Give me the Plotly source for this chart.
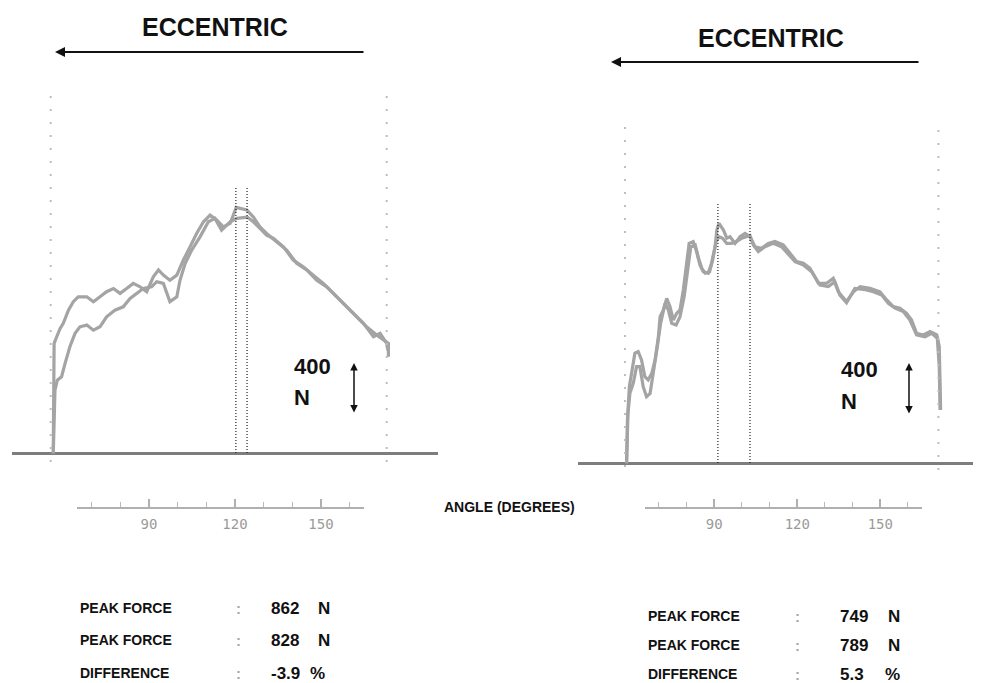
import plotly.graph_objects as go

# The page body has an 8px margin, so the figure is sized and positioned to compensate.
PAGE_MARGIN = 8
W, H = 981 - PAGE_MARGIN, 683 - PAGE_MARGIN

# ---------------- data (angle in degrees, force in N) ----------------
left_c1_deg = [56.6, 56.9, 57.8, 59.0, 60.1, 61.9, 63.6, 65.3, 68.3, 70.6, 72.9, 75.2, 77.6, 79.9, 82.2, 84.5,
               86.9, 89.2, 91.5, 93.3, 95.0, 97.3, 99.7, 102.0, 104.3, 106.6, 109.0, 111.3, 113.6, 115.9, 118.3,
               120.4, 124.1, 126.4, 128.7, 131.0, 134.5, 138.0, 141.5, 145.0, 148.5, 152.0, 155.5, 159.0, 162.4,
               165.9, 169.4, 171.7, 173.5, 173.5]
left_c1_force = [0, 386, 409, 438, 456, 502, 532, 549, 549, 532, 549, 567, 578, 561, 578, 596,
                 584, 567, 619, 643, 625, 607, 625, 678, 724, 771, 812, 835, 818, 794, 806,
                 862, 853, 829, 794, 771, 742, 713, 666, 643, 607, 584, 549, 514, 479,
                 444, 415, 397, 386, 339]

left_c2_deg = [56.6, 57.2, 58.0, 59.5, 60.7, 62.4, 64.2, 65.9, 68.3, 70.6, 72.9, 75.2, 78.1, 81.0, 83.4, 85.7,
               88.0, 90.9, 92.7, 95.0, 97.3, 99.7, 100.8, 102.6, 104.9, 107.8, 110.7, 113.0, 115.3, 118.3, 120.6,
               124.3, 126.4, 128.7, 131.0, 133.4, 136.9, 140.3, 143.8, 147.3, 150.8, 154.3, 157.8, 161.3, 164.8,
               168.3, 170.6, 172.9, 173.3]
left_c2_force = [0, 222, 257, 269, 315, 374, 421, 444, 450, 432, 444, 479, 502, 514, 543, 561,
                 578, 584, 602, 596, 532, 549, 607, 666, 713, 759, 812, 824, 783, 812, 824,
                 828, 812, 789, 765, 754, 724, 678, 654, 625, 596, 561, 526, 491, 456,
                 409, 421, 386, 362]

right_c1_deg = [58.3, 58.6, 59.3, 60.1, 61.3, 62.5, 63.7, 64.9, 66.1, 67.4, 68.6, 69.8, 70.4, 71.6, 72.8, 74.0,
                75.2, 76.4, 77.6, 78.8, 80.0, 80.9, 82.4, 83.6, 84.8, 86.0, 87.8, 89.0, 90.3, 90.9, 91.7,
                93.3, 94.5, 95.7, 97.5, 99.3, 101.1, 102.9, 104.7, 107.1, 109.5, 111.9, 114.9, 117.4, 119.8,
                122.2, 124.6, 127.6, 130.6, 133.0, 134.8, 137.8, 140.3, 142.7, 146.3, 149.9, 152.3, 154.7,
                157.1, 159.5, 161.3, 163.1, 165.5, 168.0, 170.4, 171.3, 171.6, 171.8]
right_c1_force = [0, 142, 252, 296, 362, 367, 340, 285, 274, 296, 340, 416, 482, 504, 542, 515,
                  471, 493, 504, 570, 647, 723, 729, 696, 652, 630, 625, 658, 712, 767, 789,
                  767, 740, 745, 723, 745, 756, 745, 712, 707, 723, 729, 718, 690, 663,
                  658, 641, 592, 592, 608, 564, 532, 564, 581, 575, 564, 537, 515,
                  510, 493, 471, 427, 422, 433, 422, 384, 296, 175]

right_c2_deg = [58.3, 58.8, 59.5, 60.7, 61.9, 63.1, 64.3, 65.5, 66.8, 68.0, 69.4, 70.6, 72.2, 73.4, 74.6, 76.2,
                77.6, 79.1, 80.3, 81.5, 83.1, 84.3, 85.5, 86.7, 88.3, 89.4, 90.6, 91.8, 93.0, 94.5, 96.3,
                98.1, 99.9, 101.7, 102.9, 104.1, 105.9, 108.3, 111.3, 114.3, 116.8, 119.2, 122.2, 125.2,
                128.2, 131.2, 133.6, 135.4, 137.8, 140.8, 143.9, 147.5, 150.5, 152.9, 155.3, 158.3,
                160.7, 163.1, 166.1, 168.6, 170.6, 171.3, 171.6]
right_c2_force = [0, 164, 230, 263, 318, 318, 252, 219, 230, 296, 384, 460, 526, 504, 460, 455,
                  482, 548, 636, 712, 718, 674, 641, 625, 630, 668, 729, 745, 740, 723, 723,
                  729, 740, 745, 749, 718, 696, 712, 723, 712, 685, 663, 652, 630,
                  586, 581, 597, 553, 528, 575, 572, 564, 553, 526, 510, 499,
                  471, 422, 416, 427, 411, 318, 175]

# range-of-motion limits and peak-angle markers (degrees)
left_rom = [55.7, 172.9]
right_rom = [57.7, 171.0]
left_peak_angles = [120.3, 124.2]
right_peak_angles = [91.3, 102.9]

# angle scale
scale_range = [65, 165]
major_ticks = [90, 120, 150]
major_labels = ["90", "120", "150"]
minor_ticks = [65, 70, 80, 100, 110, 130, 140, 160, 165]

# summary values
left_peaks = [862, 828]
left_diff = -3.9
right_peaks = [749, 789]
right_diff = 5.3

title_text = "ECCENTRIC"
scale_value = "400"
scale_unit = "N"
axis_title = "ANGLE (DEGREES)"
row_labels = ["PEAK FORCE", "PEAK FORCE", "DIFFERENCE"]


# ---------------- helpers: window pixels -> paper ----------------
def px(x):
    return (x - PAGE_MARGIN) / W


def py(y):
    return 1 - (y - PAGE_MARGIN) / H


CURVE = "#a4a4a4"
fig = go.Figure()

for xs, ys in [(left_c1_deg, left_c1_force), (left_c2_deg, left_c2_force)]:
    fig.add_trace(go.Scatter(x=xs, y=ys, mode="lines", xaxis="x", yaxis="y",
                             line=dict(color=CURVE, width=3.2), hoverinfo="skip", showlegend=False))
for xs, ys in [(right_c1_deg, right_c1_force), (right_c2_deg, right_c2_force)]:
    fig.add_trace(go.Scatter(x=xs, y=ys, mode="lines", xaxis="x2", yaxis="y2",
                             line=dict(color=CURVE, width=3.2), hoverinfo="skip", showlegend=False))

# invisible traces to activate the angle scales
fig.add_trace(go.Scatter(x=scale_range, y=[0, 0], xaxis="x3", yaxis="y", mode="markers",
                         marker=dict(opacity=0), hoverinfo="skip", showlegend=False))
fig.add_trace(go.Scatter(x=scale_range, y=[0, 0], xaxis="x4", yaxis="y2", mode="markers",
                         marker=dict(opacity=0), hoverinfo="skip", showlegend=False))

hidden = dict(showgrid=False, showticklabels=False, ticks="", showline=False, fixedrange=True)

scale_axis = dict(
    range=scale_range, anchor="free", position=py(508),
    showline=True, linecolor="#b0b0b0", linewidth=1.5,
    showgrid=False, zeroline=False,
    tickmode="array", tickvals=major_ticks, ticktext=major_labels,
    ticks="inside", ticklen=8, tickwidth=1.5, tickcolor="#b0b0b0",
    tickfont=dict(family="DejaVu Sans Mono", size=14, color="#9a9a9a"),
    ticklabelstandoff=3,
    minor=dict(tickmode="array", tickvals=minor_ticks, ticks="inside", ticklen=5,
               tickwidth=1.2, tickcolor="#b8b8b8", showgrid=False),
)

fig.update_layout(
    width=W, height=H, margin=dict(l=0, r=0, t=0, b=0),
    paper_bgcolor="white", plot_bgcolor="rgba(0,0,0,0)", showlegend=False,
    xaxis=dict(domain=[px(12), px(438)], range=[42.21, 190.80], anchor="y", zeroline=False, **hidden),
    yaxis=dict(domain=[py(470), py(60)], range=[-57.8, 1378.8], anchor="x",
               zeroline=True, zerolinecolor="#7d7d7d", zerolinewidth=3, **hidden),
    xaxis2=dict(domain=[px(578), 1.0], range=[40.74, 186.39], anchor="y2", zeroline=False, **hidden),
    yaxis2=dict(domain=[py(480), py(60)], range=[-54.9, 1325.9], anchor="x2",
                zeroline=True, zerolinecolor="#7d7d7d", zerolinewidth=3, **hidden),
    xaxis3=dict(domain=[px(77.3), px(364)], **scale_axis),
    xaxis4=dict(domain=[px(645.1), px(921.8)], **scale_axis),
)

shapes = []
# ROM boundaries (light gray dotted)
for xv, top, bot in [(left_rom[0], 85, 462), (left_rom[1], 85, 462)]:
    shapes.append(dict(type="line", xref="x", yref="paper", x0=xv, x1=xv, y0=py(bot), y1=py(top),
                       line=dict(color="#bdbdbd", width=2, dash="2px,11px")))
for xv, top, bot in [(right_rom[0], 120, 467), (right_rom[1], 122, 470)]:
    shapes.append(dict(type="line", xref="x2", yref="paper", x0=xv, x1=xv, y0=py(bot), y1=py(top),
                       line=dict(color="#bdbdbd", width=2, dash="2px,11px")))
# peak angle markers (black fine dotted)
for xv in left_peak_angles:
    shapes.append(dict(type="line", xref="x", yref="paper", x0=xv, x1=xv, y0=py(453), y1=py(187),
                       line=dict(color="#222222", width=1.2, dash="1px,2px")))
for xv in right_peak_angles:
    shapes.append(dict(type="line", xref="x2", yref="paper", x0=xv, x1=xv, y0=py(463), y1=py(202),
                       line=dict(color="#222222", width=1.2, dash="1px,2px")))
fig.update_layout(shapes=shapes)

FONT = "Liberation Sans, Arial, sans-serif"
ann = []


def text(x, y, s, size, xanchor="center", color="#111111"):
    ann.append(dict(x=px(x), y=py(y), xref="paper", yref="paper", text=s, showarrow=False,
                    xanchor=xanchor, yanchor="middle", font=dict(family=FONT, size=size, color=color)))


def arrow(x0, y0, x1, y1, width=2, both=False, size=1.0):
    # head at (x0, y0), tail at (x1, y1), in pixels
    ann.append(dict(x=px(x0), y=py(y0), ax=x1 - x0, ay=y1 - y0, xref="paper", yref="paper",
                    axref="pixel", ayref="pixel", text="", showarrow=True, arrowhead=2,
                    arrowsize=size, arrowwidth=width, arrowcolor="#111111",
                    arrowside="end+start" if both else "end", standoff=0, startstandoff=0))


# titles and direction arrows
text(215, 27, "<b>%s</b>" % title_text, 25)
arrow(55, 52, 365, 52, width=2)
text(771, 38, "<b>%s</b>" % title_text, 25)
arrow(611, 62, 920, 62, width=2)

# force scale markers
text(292, 366, "<b>%s</b>" % scale_value, 22, xanchor="left")
text(292, 398, "<b>%s</b>" % scale_unit, 22, xanchor="left")
arrow(354, 363, 354, 414, width=1.5, both=True)
text(839, 369, "<b>%s</b>" % scale_value, 22, xanchor="left")
text(839, 401, "<b>%s</b>" % scale_unit, 22, xanchor="left")
arrow(909, 363, 909, 415, width=1.5, both=True)

text(509, 507, "<b>%s</b>" % axis_title, 14)

# summary tables
left_rows_y = [608, 640, 673]
right_rows_y = [616, 645, 674]
left_vals = ["%d" % left_peaks[0], "%d" % left_peaks[1], "%.1f" % left_diff]
right_vals = ["%d" % right_peaks[0], "%d" % right_peaks[1], "%.1f" % right_diff]
units = ["N", "N", "%"]
for i, yy in enumerate(left_rows_y):
    text(78, yy, "<b>%s</b>" % row_labels[i], 14, xanchor="left")
    text(238, yy, "<b>:</b>", 15, color="#a8a8a8")
    text(269, yy, "<b>%s</b>" % left_vals[i], 17, xanchor="left")
    text(324 if i < 2 else 317, yy, "<b>%s</b>" % units[i], 17)
for i, yy in enumerate(right_rows_y):
    text(646, yy, "<b>%s</b>" % row_labels[i], 14, xanchor="left")
    text(797, yy, "<b>:</b>", 15, color="#a8a8a8")
    text(838, yy, "<b>%s</b>" % right_vals[i], 17, xanchor="left")
    text(894 if i < 2 else 892, yy, "<b>%s</b>" % units[i], 17)

fig.update_layout(annotations=ann)
fig.write_html("out.html", post_script="document.body.style.overflow='hidden';")
